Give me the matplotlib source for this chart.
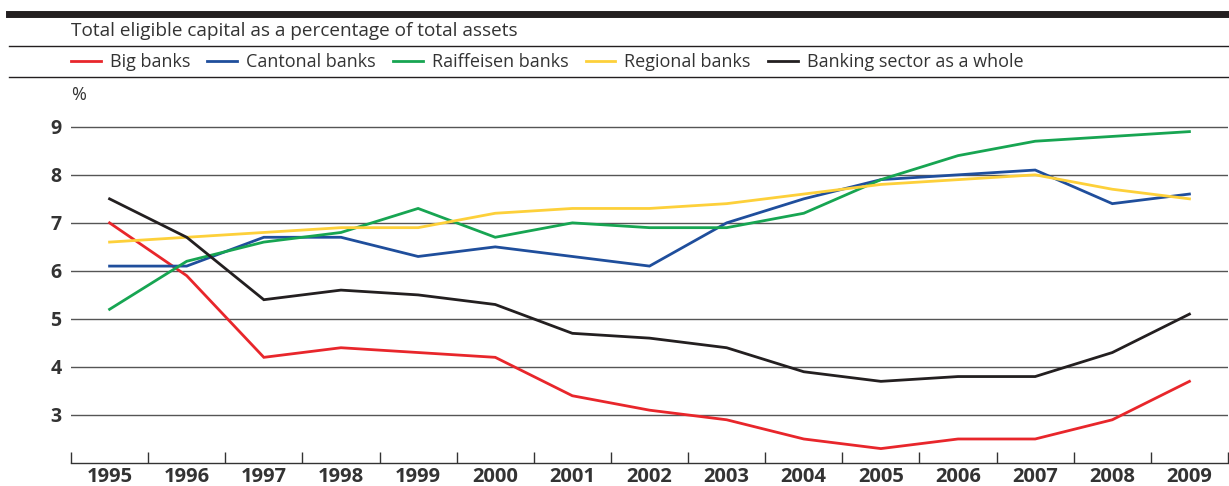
import matplotlib
matplotlib.use("Agg")
import matplotlib.pyplot as plt
from matplotlib.lines import Line2D
from matplotlib.ticker import FixedLocator

plt.rcParams["font.family"] = ["Open Sans", "DejaVu Sans"]

years = ["1995", "1996", "1997", "1998", "1999", "2000", "2001", "2002",
         "2003", "2004", "2005", "2006", "2007", "2008", "2009"]
big_banks = [7.0, 5.9, 4.2, 4.4, 4.3, 4.2, 3.4, 3.1, 2.9, 2.5, 2.3, 2.5, 2.5, 2.9, 3.7]
cantonal = [6.1, 6.1, 6.7, 6.7, 6.3, 6.5, 6.3, 6.1, 7.0, 7.5, 7.9, 8.0, 8.1, 7.4, 7.6]
raiffeisen = [5.2, 6.2, 6.6, 6.8, 7.3, 6.7, 7.0, 6.9, 6.9, 7.2, 7.9, 8.4, 8.7, 8.8, 8.9]
regional = [6.6, 6.7, 6.8, 6.9, 6.9, 7.2, 7.3, 7.3, 7.4, 7.6, 7.8, 7.9, 8.0, 7.7, 7.5]
sector = [7.5, 6.7, 5.4, 5.6, 5.5, 5.3, 4.7, 4.6, 4.4, 3.9, 3.7, 3.8, 3.8, 4.3, 5.1]

series = [
    ("Big banks", big_banks, "#e8262b"),
    ("Cantonal banks", cantonal, "#1f4e9c"),
    ("Raiffeisen banks", raiffeisen, "#17a552"),
    ("Regional banks", regional, "#fdd03a"),
    ("Banking sector as a whole", sector, "#231f20"),
]
yticks = [3, 4, 5, 6, 7, 8, 9]
text_col = "#333333"

W, H = 1229, 486
fig = plt.figure(figsize=(W / 100, H / 100), dpi=100)
ax = fig.add_axes([71 / W, 23 / H, (1228 - 71) / W, (463 - 110) / H])

x = list(range(len(years)))
for name, vals, col in series:
    ax.plot(x, vals, color=col, lw=2.0, label=name, solid_joinstyle="miter")

ax.set_xlim(-0.5, len(years) - 0.5)
ax.set_ylim(2, 9.35)
ax.set_yticks(yticks)
ax.set_yticklabels([str(t) for t in yticks], fontsize=14, fontweight="bold", color=text_col)
ax.tick_params(axis="y", length=0, pad=7)
ax.yaxis.grid(True, color="#555555", lw=1.0)
ax.set_axisbelow(True)

# year labels sit between the boundary ticks
ax.set_xticks(x)
ax.set_xticklabels(years, fontsize=14.5, fontweight="bold", color=text_col)
ax.xaxis.set_minor_locator(FixedLocator([i - 0.5 for i in range(len(years) + 1)]))
ax.tick_params(axis="x", which="major", length=0, pad=3)
ax.tick_params(axis="x", which="minor", direction="in", length=8, width=1, color="#333333")

for side in ("top", "right", "left"):
    ax.spines[side].set_visible(False)
ax.spines["bottom"].set_color("#333333")
ax.spines["bottom"].set_linewidth(1.0)

# header rules
fig.add_artist(Line2D([9 / W, 1], [1 - 14 / H] * 2, color="#231f20", lw=5))
fig.add_artist(Line2D([9 / W, 1], [1 - 46 / H] * 2, color="#231f20", lw=1))
fig.add_artist(Line2D([9 / W, 1], [1 - 77 / H] * 2, color="#231f20", lw=1))

fig.text(71 / W, 1 - 31 / H, "Total eligible capital as a percentage of total assets",
         fontsize=13.7, color=text_col, va="center", ha="left")
fig.text(71 / W, 1 - 95 / H, "%", fontsize=13, color=text_col, va="center", ha="left")

handles, labels = ax.get_legend_handles_labels()
fig.legend(handles, labels, loc="center left", bbox_to_anchor=(71 / W, 1 - 62 / H),
           ncol=5, frameon=False, fontsize=13, handlelength=1.65, handletextpad=0.5,
           columnspacing=0.95, borderpad=0, borderaxespad=0, labelcolor=text_col)

fig.savefig("out.png", dpi=100)
